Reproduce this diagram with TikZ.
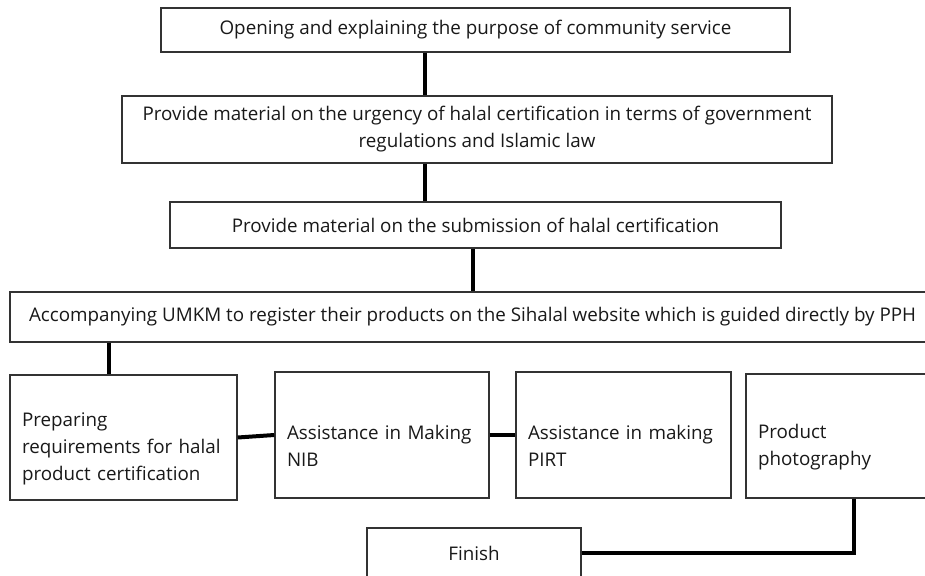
\documentclass[tikz,border=0pt]{standalone}
\usepackage{fontspec}
\setmainfont{Open Sans}
\begin{document}
\begin{tikzpicture}[x=1pt, y=-1pt,
  every node/.style={font=\fontsize{18.8}{27}\selectfont, text=black!90},
  box/.style={draw=black!80, line width=1.4pt, fill=white, inner sep=0pt},
  step box/.style={box, align=left, inner xsep=12pt, execute at begin node={\rule{0pt}{36pt}}},
  link/.style={line width=4pt, black}]
\path[use as bounding box, fill=white] (0,0) rectangle (925,575);
% top row of steps
\node[box, minimum width=629, minimum height=44] (open) at (475.5,30) {Opening and explaining the purpose of community service};
\node[box, align=center, minimum width=710, minimum height=67] (urgency) at (477,129.5) {Provide material on the urgency of halal certification in terms of government\\regulations and Islamic law};
\node[box, minimum width=611, minimum height=46] (submit) at (475.5,225) {Provide material on the submission of halal certification};
\node[box, minimum width=925, minimum height=50] (register) at (472.5,317) {Accompanying UMKM to register their products on the Sihalal website which is guided directly by PPH};
% assistance row
\node[step box, text width=203, minimum height=125] (prepare) at (123.5,437.5) {Preparing\\requirements for halal\\product certification};
\node[step box, text width=190, minimum height=126] (nib) at (382,435) {Assistance in Making\\NIB};
\node[step box, text width=191, minimum height=126] (pirt) at (623.5,435) {Assistance in making\\PIRT};
\node[step box, text width=165, minimum height=124] (photo) at (840.5,436) {Product\\photography};
\node[box, minimum width=214, minimum height=50] (finish) at (474,553) {Finish};
% connectors
\draw[link] (open.south -| 425,0) -- (urgency.north -| 425,0);
\draw[link] (urgency.south -| 425,0) -- (submit.north -| 425,0);
\draw[link] (submit.south -| 473,0) -- (register.north -| 473,0);
\draw[link] (register.south -| 109,0) -- (prepare.north -| 109,0);
\draw[link] (prepare.east) -- (nib.west);
\draw[link] (nib.east) -- (pirt.west);
\draw[link] (photo.south -| 854,0) |- (finish.east);
\end{tikzpicture}
\end{document}
